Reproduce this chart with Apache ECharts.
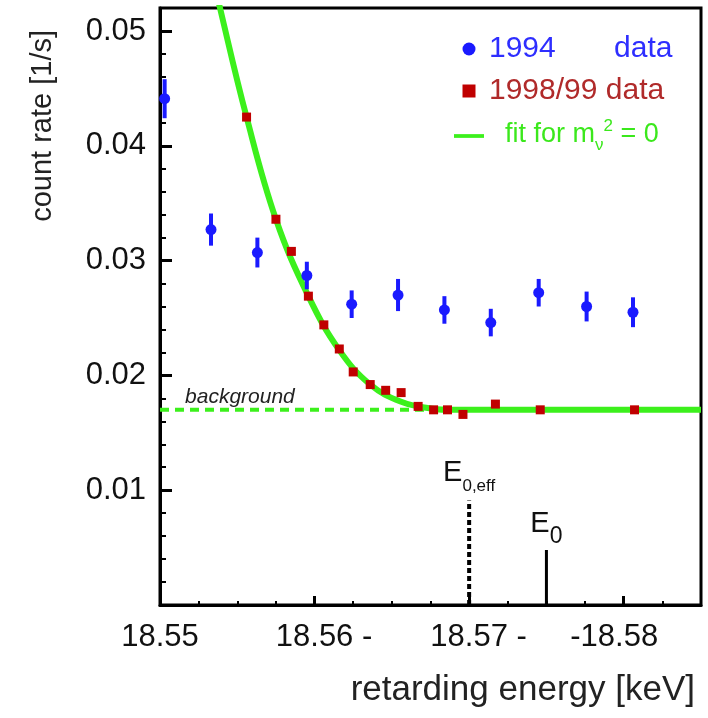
<!DOCTYPE html>
<html>
<head>
<meta charset="utf-8">
<title>count rate vs retarding energy</title>
<script src="https://cdn.jsdelivr.net/npm/echarts@6/dist/echarts.min.js"></script>
<style>
  html, body { margin: 0; padding: 0; background: #fff; }
  #main { width: 708px; height: 718px; }
</style>
</head>
<body>
<div id="main"></div>
<script>
// 1994 data (blue, with error bars)
const blueX = [18.5503, 18.5533, 18.5563, 18.5595, 18.5624, 18.5654, 18.5684, 18.5714, 18.5745, 18.5776, 18.5806]
const blueY = [0.0441, 0.0327, 0.0307, 0.0287, 0.0262, 0.0270, 0.0257, 0.0246, 0.0272, 0.0260, 0.0255]
const blueErr = [0.0017, 0.0014, 0.0013, 0.0012, 0.0012, 0.0014, 0.0012, 0.0012, 0.0012, 0.0013, 0.0013]

// 1998/99 data (red squares)
const redX = [18.5556, 18.5575, 18.5585, 18.5596, 18.5606, 18.5616, 18.5625, 18.5636, 18.5646, 18.5656,
  18.5667, 18.5677, 18.5686, 18.5696, 18.5717, 18.5746, 18.5807]
const redY = [0.0425, 0.0336, 0.0308, 0.0269, 0.0244, 0.0223, 0.0203, 0.0192, 0.0187, 0.0185,
  0.0173, 0.0170, 0.0170, 0.0166, 0.0175, 0.0170, 0.0170]

// fit for m_nu^2 = 0
const fitX = [18.5533, 18.5539, 18.5556, 18.5575, 18.5596, 18.5616, 18.5636, 18.5656, 18.5676, 18.5690, 18.585]
const fitY = [0.0555, 0.0519, 0.0425, 0.0336, 0.0269, 0.0222, 0.0192, 0.0177, 0.0171, 0.0170, 0.0170]

// background level (dashed) and the two endpoint markers
const background = 0.0170
const backgroundEndX = 18.5685
const e0EffX = 18.57
const e0EffTop = 0.0091
const e0X = 18.575
const e0Top = 0.0048

// axis ticks
const xTickValues = [18.55, 18.56, 18.57, 18.58]
const xTickLabels = ['18.55', '18.56 -', '18.57 -', '-18.58']

const NAME_1994 = '1994 data'
const NAME_9899 = '1998/99 data'
const NAME_FIT = 'fit for m_nu^2 = 0'

const BLUE = '#1a1aff'
const RED = '#c00000'
const GREEN = '#3cf01c'
const FONT = 'Liberation Sans, Arial, sans-serif'

const zip = (a, b) => a.map((v, i) => [v, b[i]])

const xLabel = value => {
  const i = xTickValues.findIndex(v => Math.abs(v - value) < 1e-6)
  if (i < 0) return ''
  const s = xTickLabels[i]
  // keep the number itself centred on its tick
  if (s.endsWith(' -')) return '{h| -}' + s
  if (s.startsWith('-')) return s + '{h|- }'
  return s
}

const chart = echarts.init(document.getElementById('main'), null, { renderer: 'canvas' })

const option = {
  backgroundColor: '#fff',
  animation: false,
  textStyle: { fontFamily: FONT },
  grid: {
    left: 160, right: 7, top: 8, bottom: 113,
    show: true, borderColor: '#000', borderWidth: 3,
    containLabel: false, outerBoundsMode: 'none'
  },
  legend: {
    orient: 'vertical',
    left: 449,
    top: 29,
    itemWidth: 30,
    itemHeight: 13,
    itemGap: 12,
    selectedMode: false,
    symbolKeepAspect: true,
    data: [
      { name: NAME_1994, icon: 'circle', itemStyle: { color: BLUE }, textStyle: { color: '#2e2eff' } },
      { name: NAME_9899, icon: 'path://M0,0 L12,0 L12,12 L0,12 Z', itemStyle: { color: RED }, textStyle: { color: '#b02a2a' } },
      { name: NAME_FIT, icon: 'path://M0,0 L40,0 L40,5 L0,5 Z', itemStyle: { color: GREEN }, textStyle: { color: '#3be81c' } }
    ],
    textStyle: {
      fontSize: 30,
      fontFamily: FONT,
      rich: {
        f: { fontSize: 27, color: '#3be81c', padding: [0, 0, 6, 0], verticalAlign: 'bottom' },
        f0: { fontSize: 27, color: '#3be81c', padding: [0, 0, 6, 16], verticalAlign: 'bottom' },
        sub: { fontSize: 17, color: '#3be81c', verticalAlign: 'bottom' },
        sup: { fontSize: 17, color: '#3be81c', padding: [0, 0, 19, 0], verticalAlign: 'bottom' }
      }
    },
    formatter: name => {
      if (name === NAME_1994) return '1994       data'
      if (name === NAME_FIT) return '{f0|fit for m}{sub|ν}{sup|2}{f| = 0}'
      return name
    }
  },
  xAxis: [
    {
      type: 'value',
      min: 18.55,
      max: 18.585,
      interval: 0.01,
      position: 'bottom',
      name: 'retarding energy [keV]',
      nameLocation: 'end',
      nameGap: -6,
      nameMoveOverlap: false,
      nameTextStyle: {
        fontSize: 35, color: '#222', fontFamily: FONT,
        align: 'right', verticalAlign: 'top', padding: [68, 0, 0, 0]
      },
      axisLine: { onZero: false, lineStyle: { color: '#000', width: 3 } },
      axisTick: { inside: true, length: 9, lineStyle: { color: '#000', width: 3 } },
      axisLabel: {
        fontSize: 31, color: '#111', margin: 17, fontFamily: FONT,
        showMaxLabel: false,
        formatter: xLabel,
        rich: { h: { fontSize: 31, color: 'rgba(0,0,0,0)' } }
      },
      splitLine: { show: false }
    },
    {
      type: 'value',
      min: 18.55,
      max: 18.585,
      interval: 0.0025,
      position: 'bottom',
      axisLine: { show: false },
      axisTick: { inside: true, length: 4, lineStyle: { color: '#000', width: 2 } },
      axisLabel: { show: false },
      splitLine: { show: false }
    }
  ],
  yAxis: [
    {
      type: 'value',
      min: 0,
      max: 0.052,
      interval: 0.01,
      position: 'left',
      name: 'count rate [1/s]',
      nameLocation: 'end',
      nameRotate: 90,
      nameGap: -22,
      nameMoveOverlap: false,
      nameTextStyle: {
        fontSize: 29, color: '#222', fontFamily: FONT,
        align: 'right', verticalAlign: 'bottom', padding: [0, 0, 103, 0]
      },
      axisLine: { lineStyle: { color: '#000', width: 3 } },
      axisTick: { inside: true, length: 12, lineStyle: { color: '#000', width: 3 } },
      axisLabel: {
        fontSize: 31, color: '#111', margin: 14, fontFamily: FONT,
        showMinLabel: false, showMaxLabel: false
      },
      splitLine: { show: false }
    },
    {
      type: 'value',
      min: 0,
      max: 0.052,
      interval: 0.002,
      position: 'left',
      axisLine: { show: false },
      axisTick: { inside: true, length: 6, lineStyle: { color: '#000', width: 2 } },
      axisLabel: { show: false },
      splitLine: { show: false }
    }
  ],
  series: [
    {
      name: 'background',
      type: 'line',
      z: 2,
      symbol: 'circle',
      symbolSize: 0.1,
      itemStyle: { color: 'rgba(0,0,0,0)' },
      lineStyle: { color: GREEN, width: 4, type: [9, 6] },
      data: [
        {
          value: [18.55, background],
          label: {
            show: true,
            position: 'right',
            offset: [20, -13],
            formatter: 'background',
            fontSize: 21,
            fontStyle: 'italic',
            color: '#222',
            fontFamily: FONT
          }
        },
        [backgroundEndX, background]
      ]
    },
    {
      name: NAME_FIT,
      type: 'line',
      z: 3,
      smooth: 0.4,
      symbol: 'none',
      clip: true,
      itemStyle: { color: GREEN },
      lineStyle: { color: GREEN, width: 6 },
      data: zip(fitX, fitY)
    },
    {
      name: 'E0,eff',
      type: 'line',
      z: 4,
      symbol: 'circle',
      symbolSize: 0.1,
      itemStyle: { color: 'rgba(0,0,0,0)' },
      lineStyle: { color: '#000', width: 4, type: [5, 3] },
      data: [
        [e0EffX, 0],
        {
          value: [e0EffX, e0EffTop],
          label: {
            show: true,
            position: 'top',
            distance: 6,
            formatter: '{e|E}{s|0,eff}',
            rich: {
              e: { fontSize: 29, color: '#111', fontFamily: FONT, padding: [0, 0, 7, 0], verticalAlign: 'bottom' },
              s: { fontSize: 17, color: '#111', fontFamily: FONT, verticalAlign: 'bottom' }
            }
          }
        }
      ]
    },
    {
      name: 'E0',
      type: 'line',
      z: 4,
      symbol: 'circle',
      symbolSize: 0.1,
      itemStyle: { color: 'rgba(0,0,0,0)' },
      lineStyle: { color: '#000', width: 3 },
      data: [
        [e0X, 0],
        {
          value: [e0X, e0Top],
          label: {
            show: true,
            position: 'top',
            distance: 2,
            formatter: '{e|E}{s|0}',
            rich: {
              e: { fontSize: 29, color: '#111', fontFamily: FONT, padding: [0, 0, 9, 0], verticalAlign: 'bottom' },
              s: { fontSize: 23, color: '#111', fontFamily: FONT, verticalAlign: 'bottom' }
            }
          }
        }
      ]
    },
    {
      name: '1994 errors',
      type: 'custom',
      z: 5,
      data: blueX.map((x, i) => [x, blueY[i], blueErr[i]]),
      encode: { x: 0, y: 1 },
      renderItem: (params, api) => {
        const hi = api.coord([api.value(0), api.value(1) + api.value(2)])
        const lo = api.coord([api.value(0), api.value(1) - api.value(2)])
        return {
          type: 'line',
          shape: { x1: hi[0], y1: hi[1], x2: lo[0], y2: lo[1] },
          style: { stroke: BLUE, lineWidth: 4 }
        }
      }
    },
    {
      name: NAME_1994,
      type: 'scatter',
      z: 6,
      symbol: 'circle',
      symbolSize: 11,
      itemStyle: { color: BLUE, opacity: 1 },
      data: zip(blueX, blueY)
    },
    {
      name: NAME_9899,
      type: 'scatter',
      z: 7,
      symbol: 'rect',
      symbolSize: 9,
      itemStyle: { color: RED, opacity: 1 },
      data: zip(redX, redY)
    }
  ]
}

chart.setOption(option)
</script>
</body>
</html>
